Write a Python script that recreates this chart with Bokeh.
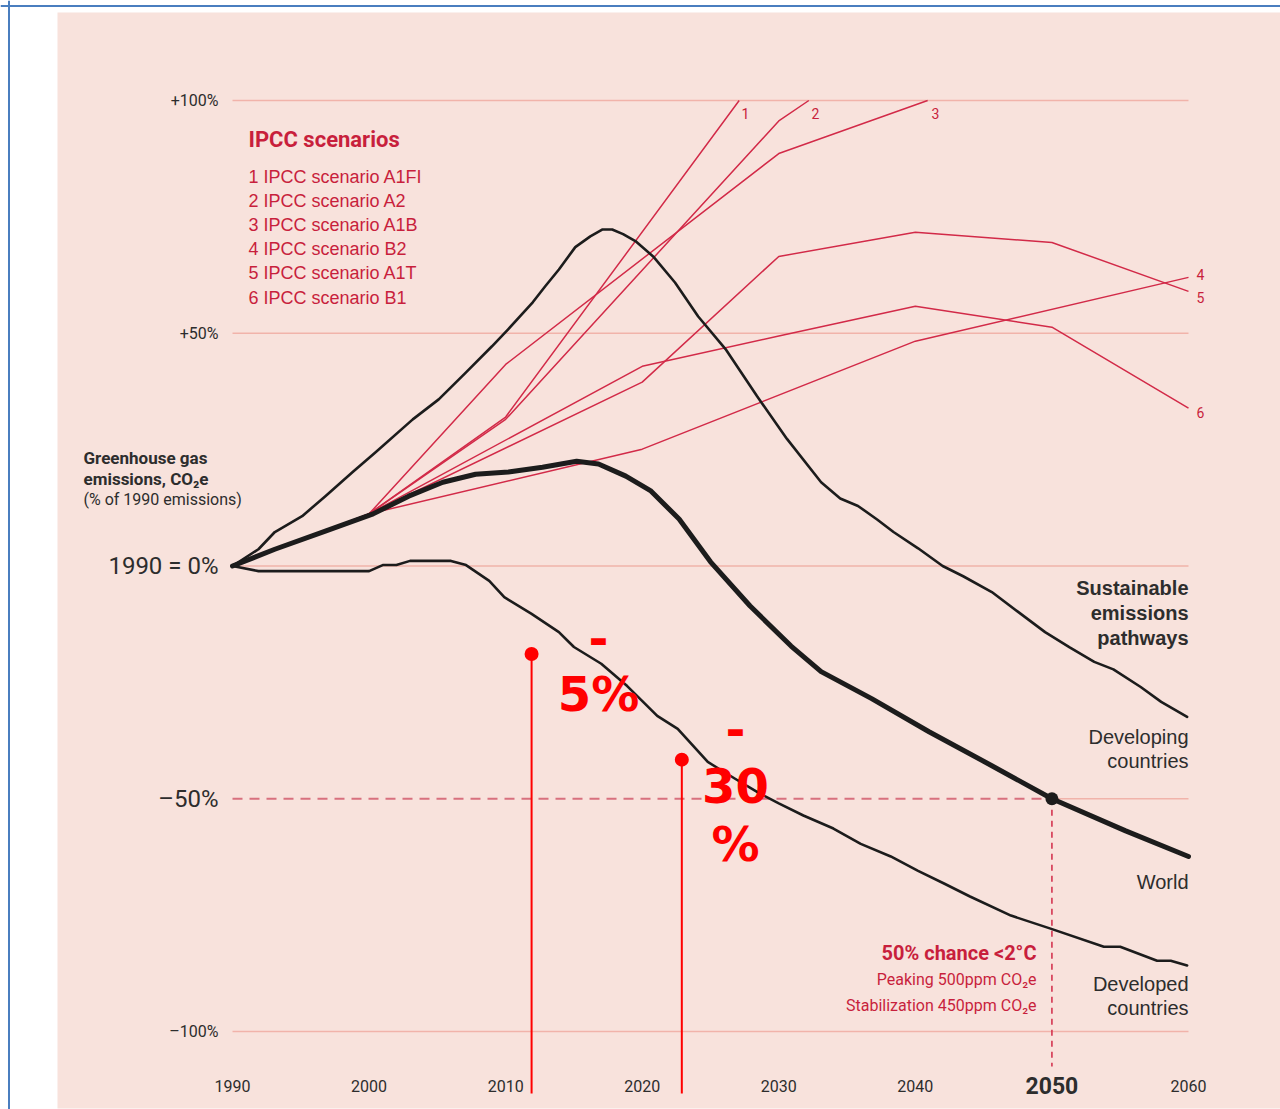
from bokeh.plotting import figure
from bokeh.models import Span
from bokeh.core.properties import value
from bokeh.embed import file_html
from bokeh.resources import INLINE

# ---------------- data ----------------
world_years = [1990, 1993.1, 1996.8, 2000.3, 2002.9, 2005.4, 2007.8, 2010.2, 2012.7, 2015.2,
               2016.8, 2018.8, 2020.6, 2022.7, 2025.0, 2027.9, 2030.9, 2033.1, 2036.8, 2041.0,
               2045.6, 2050.0, 2055.4, 2060.0]
world_pct = [0, 3.6, 7.5, 11.2, 15.0, 18.0, 19.7, 20.2, 21.2, 22.5,
             21.9, 19.3, 16.2, 10.1, 0.9, -8.6, -17.2, -22.7, -28.5, -35.6,
             -42.9, -50.0, -56.9, -62.4]

developing_years = [1990, 1991.9, 1993.1, 1995.1, 1996.8, 1998.8, 2000.5, 2003.2, 2005.1, 2007.1,
                    2009.0, 2010.2, 2012.0, 2012.9, 2013.9, 2015.1, 2016.2, 2017.1, 2017.8, 2018.6,
                    2019.5, 2020.8, 2022.4, 2024.1, 2026.1, 2028.4, 2030.6, 2033.1, 2034.5, 2035.8,
                    2037.2, 2038.4, 2040.2, 2042.0, 2043.5, 2045.6, 2047.5, 2049.5, 2051.3, 2053.1,
                    2054.5, 2056.5, 2058.0, 2059.9]
developing_pct = [0, 3.6, 7.3, 10.7, 15.0, 20.2, 24.5, 31.5, 35.8, 41.6,
                  47.2, 50.9, 56.7, 60.1, 63.7, 68.5, 70.8, 72.3, 72.3, 71.3,
                  69.8, 66.5, 60.9, 53.6, 46.6, 36.5, 27.3, 18.0, 14.5, 12.9,
                  10.0, 7.3, 3.8, 0.0, -2.2, -5.6, -9.8, -14.2, -17.5, -20.6,
                  -22.2, -26.0, -29.2, -32.4]

developed_years = [1990, 1991.9, 2000.0, 2001.0, 2002.0, 2003.0, 2006.0, 2007.1, 2008.8, 2009.9,
                   2011.9, 2013.9, 2015.0, 2017.0, 2018.9, 2021.1, 2022.6, 2024.8, 2026.8, 2028.5,
                   2030.0, 2031.8, 2034.0, 2036.0, 2038.2, 2040.2, 2042.1, 2044.0, 2047.0, 2049.9,
                   2053.8, 2055.0, 2057.7, 2058.7, 2059.9]
developed_pct = [0, -1.1, -1.1, 0.2, 0.2, 1.1, 1.1, 0.2, -3.2, -6.7,
                 -10.3, -14.2, -17.4, -21.0, -25.8, -32.2, -35.0, -42.1, -45.7, -48.7,
                 -51.0, -53.6, -56.4, -59.7, -62.4, -65.5, -68.2, -71.0, -75.1, -77.9,
                 -81.8, -81.8, -84.8, -84.8, -85.8]

# IPCC scenarios (1 = A1FI ... 6 = B1)
a1fi_years = [1990, 2000, 2010, 2027.1]
a1fi_pct = [0, 11.2, 32.0, 100]
a2_years = [1990, 2000, 2010, 2030, 2032.2]
a2_pct = [0, 11.2, 31.5, 95.6, 100]
a1b_years = [1990, 2000, 2010, 2030, 2040.9]
a1b_pct = [0, 11.2, 43.3, 88.6, 100]
b2_years = [1990, 2000, 2020, 2040, 2060]
b2_pct = [0, 11.2, 25.1, 48.3, 62.0]
a1t_years = [1990, 2000, 2020, 2030, 2040, 2050, 2060]
a1t_pct = [0, 11.2, 39.5, 66.5, 71.7, 69.5, 59.0]
b1_years = [1990, 2000, 2020, 2030, 2040, 2050, 2060]
b1_pct = [0, 11.2, 42.9, 49.4, 55.8, 51.3, 33.9]

scenario_numbers = ["1", "2", "3", "4", "5", "6"]
scenario_names = ["IPCC scenario A1FI", "IPCC scenario A2", "IPCC scenario A1B",
                  "IPCC scenario B2", "IPCC scenario A1T", "IPCC scenario B1"]

x_ticks = [1990, 2000, 2010, 2020, 2030, 2040, 2050, 2060]
y_ticks = [100, 50, 0, -50, -100]
y_tick_labels = ["+100%", "+50%", "1990 = 0%", "\u201350%", "\u2013100%"]

target_year = 2050
target_pct = -50

marker_years = [2011.9, 2022.9]
marker_pct = [-18.9, -41.6]
marker_texts = [["-", "5%"], ["-", "30", "%"]]

# ---------------- geometry ----------------
W, H = 1280, 1109
OFF = 0               # page offset of the canvas
PXY = 956 / 70.0      # pixels per year
PXP = 4.655           # pixels per percent
x0 = 1990 - (232 - OFF) / PXY
x1 = x0 + W / PXY
y1 = 100 + (100 - OFF) / PXP
y0 = y1 - H / PXP


def X(px):
    return x0 + (px - OFF) / PXY


def Y(py):
    return y1 - (py - OFF) / PXP


p = figure(width=W, height=H, x_range=(x0, x1), y_range=(y0, y1),
           output_backend="svg", toolbar_location=None, min_border=0,
           x_axis_location=None, y_axis_location=None,
           background_fill_color="white", border_fill_color="white")
p.xgrid.grid_line_color = None
p.ygrid.grid_line_color = None
p.outline_line_color = None

NARROW = "Roboto"
RED_TXT = "#c81f3c"
RED_LINE = "#d22a48"
DARK = "#2d2d2d"


def txt(x, y, s, size, color=DARK, align="left", bold=False, font=NARROW):
    p.text(x=[x], y=[y], text=[s], text_font=value(font), text_font_size=f"{size}px",
           text_align=align, text_baseline="middle",
           text_font_style="bold" if bold else "normal", text_color=color)


# panel background and frame lines
p.quad(left=X(57), right=x1 + 2, top=Y(12), bottom=Y(1108),
       fill_color="#f8e2dc", line_color=None)
p.add_layout(Span(location=X(8.5), dimension="height", line_color="#4a7ebf", line_width=2))
p.add_layout(Span(location=Y(5.5), dimension="width", line_color="#4a7ebf", line_width=2))

# gridlines
solid_grid = [v for v in y_ticks if v != target_pct]
p.segment(x0=[x_ticks[0]] * len(solid_grid), x1=[x_ticks[-1]] * len(solid_grid),
          y0=solid_grid, y1=solid_grid, line_color="#f1b3aa", line_width=1.5)
p.segment(x0=[target_year], x1=[x_ticks[-1]], y0=[target_pct], y1=[target_pct],
          line_color="#f1b3aa", line_width=1.5)
p.segment(x0=[x_ticks[0]], x1=[target_year], y0=[target_pct], y1=[target_pct],
          line_color="#d8707e", line_width=2, line_dash="10 7")
p.segment(x0=[target_year], x1=[target_year], y0=[target_pct], y1=[Y(1066)],
          line_color=RED_LINE, line_width=1.5, line_dash="6 5")

# IPCC scenario lines
scen = [(a1fi_years, a1fi_pct), (a2_years, a2_pct), (a1b_years, a1b_pct),
        (b2_years, b2_pct), (a1t_years, a1t_pct), (b1_years, b1_pct)]
for ys, vs in scen:
    p.line(ys, vs, line_color=RED_LINE, line_width=1.5)

# black pathways
p.line(developing_years, developing_pct, line_color="#1c1c1c", line_width=2.6,
       line_join="round", line_cap="round")
p.line(developed_years, developed_pct, line_color="#1c1c1c", line_width=2.6,
       line_join="round", line_cap="round")
p.line(world_years, world_pct, line_color="#1c1c1c", line_width=5,
       line_join="round", line_cap="round")
p.scatter([target_year], [target_pct], size=13, fill_color="#1c1c1c", line_color=None)

# scenario end labels
label_pos = [(X(741), Y(113)), (X(811), Y(113)), (X(931), Y(113)),
             (X(1196), Y(274)), (X(1196), Y(297)), (X(1196), Y(412))]
for (lx, ly), num in zip(label_pos, scenario_numbers):
    txt(lx, ly, num, 14, RED_TXT, "left")

# IPCC legend block
txt(X(248), Y(139), "IPCC scenarios", 22, RED_TXT, bold=True)
for i, (num, name) in enumerate(zip(scenario_numbers, scenario_names)):
    txt(X(248), Y(176 + 24.2 * i), f"{num} {name}", 18, RED_TXT, font="Liberation Sans")

# y axis title
txt(X(83), Y(457), "Greenhouse gas", 17, DARK, bold=True)
txt(X(83), Y(478), "emissions, CO\u2082e", 17, DARK, bold=True)
txt(X(83), Y(499), "(% of 1990 emissions)", 16, DARK)

# y tick labels
for v, lab in zip(y_ticks, y_tick_labels):
    big = v in (0, target_pct)
    txt(X(218), v, lab, 24 if big else 16, DARK, "right")

# x tick labels
for yr in x_ticks:
    big = yr == target_year
    txt(yr, Y(1085), str(yr), 23 if big else 16, DARK, "center", bold=big)

# right-side series labels
txt(X(1188), Y(587), "Sustainable", 20, DARK, "right", bold=True, font="Liberation Sans")
txt(X(1188), Y(612), "emissions", 20, DARK, "right", bold=True, font="Liberation Sans")
txt(X(1188), Y(637), "pathways", 20, DARK, "right", bold=True, font="Liberation Sans")
txt(X(1188), Y(736), "Developing", 20, DARK, "right", font="Liberation Sans")
txt(X(1188), Y(760), "countries", 20, DARK, "right", font="Liberation Sans")
txt(X(1188), Y(881), "World", 20, DARK, "right", font="Liberation Sans")
txt(X(1188), Y(983), "Developed", 20, DARK, "right", font="Liberation Sans")
txt(X(1188), Y(1007), "countries", 20, DARK, "right", font="Liberation Sans")

# 2 degree note
txt(X(1036), Y(952), "50% chance <2\u00b0C", 20, RED_TXT, "right", bold=True)
txt(X(1036), Y(979), "Peaking 500ppm CO\u2082e", 16, RED_TXT, "right")
txt(X(1036), Y(1005), "Stabilization 450ppm CO\u2082e", 16, RED_TXT, "right")

# red marker overlays
for yr, v in zip(marker_years, marker_pct):
    p.segment(x0=[yr], x1=[yr], y0=[v], y1=[Y(1093)], line_color="#ff0000", line_width=2)
p.scatter(marker_years, marker_pct, size=14, fill_color="#ff0000", line_color=None)

overlay_pos = [(X(598), [Y(637), Y(693)]), (X(735), [Y(728), Y(785), Y(843)])]
for (ox, oys), lines in zip(overlay_pos, marker_texts):
    for oy, s in zip(oys, lines):
        txt(ox, oy, s, 48, "#ff0000", "center", bold=True, font="DejaVu Sans")

open("out.html", "w").write(file_html(p, INLINE))
